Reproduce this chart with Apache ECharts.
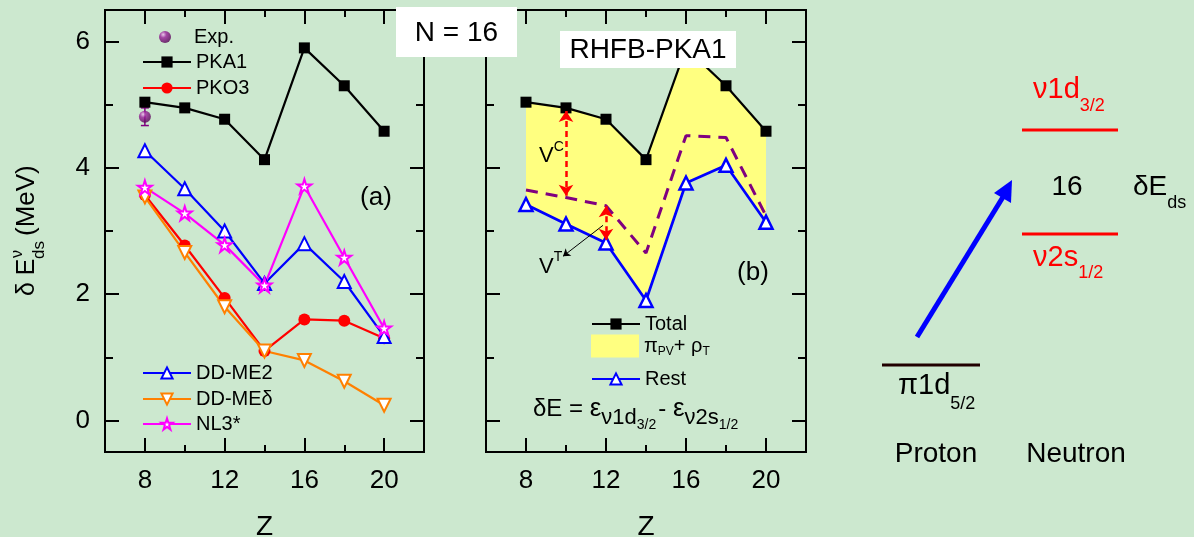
<!DOCTYPE html>
<html><head><meta charset="utf-8">
<script src="https://cdn.jsdelivr.net/npm/echarts@6/dist/echarts.min.js"></script>
<style>html,body{margin:0;padding:0;background:#cce8cf}#c{width:1194px;height:537px}</style>
</head><body><div id="c"></div>
<script>
// ---------------- data ----------------
const Z = [8, 10, 12, 14, 16, 18, 20];
const expPoint = [8, 4.81];
const expError = [4.67, 4.95];
const pka1  = [5.04, 4.95, 4.77, 4.13, 5.90, 5.30, 4.58];
const pko3  = [3.57, 2.77, 1.94, 1.10, 1.60, 1.58, 1.30];
const ddme2 = [4.27, 3.67, 3.00, 2.17, 2.80, 2.20, 1.33];
const ddmed = [3.54, 2.66, 1.80, 1.10, 0.95, 0.62, 0.24];
const nl3s  = [3.69, 3.28, 2.78, 2.14, 3.71, 2.58, 1.46];
const totalB = [5.04, 4.95, 4.77, 4.13, 5.90, 5.30, 4.58];
const restB  = [3.42, 3.11, 2.81, 1.90, 3.76, 4.04, 3.14];
const dashB  = [3.65, 3.53, 3.40, 2.65, 4.51, 4.48, 3.24];
const xTickLabels = [8, 12, 16, 20];
const xMinorTicks = [10, 14, 18];
const yTickLabels = [0, 2, 4, 6];
const yMinorTicks = [1, 3, 5];
const vcArrow = [[10, 4.90], [10, 3.56]];
const vtArrow = [[12, 3.39], [12, 2.86]];
const vtPointer = [[11.85, 3.09], [9.85, 2.60]];

// ---------------- helpers ----------------
const FF = '"Liberation Sans", Arial, sans-serif';
const ctx = document.createElement('canvas').getContext('2d');
function tw(t, s) { ctx.font = s + 'px "Liberation Sans"'; return ctx.measureText(t).width; }
function txt(x, y, t, s, color, align) {
  return { type: 'text', x: x, y: y, z: 101,
    style: { text: t, fill: color || '#000', fontSize: s, fontFamily: FF,
      textAlign: align || 'left', textVerticalAlign: 'middle', align: align || 'left', verticalAlign: 'middle' } };
}
// pieces: [text, size, dy, dxBefore]
function seq(x0, y0, pieces, color) {
  let x = x0; const out = [];
  pieces.forEach(p => {
    const t = p[0], s = p[1], dy = p[2] || 0, dx = p[3] || 0;
    x += dx;
    out.push(txt(x, y0 + dy, t, s, color));
    x += tw(t, s);
  });
  return out;
}

function makeAxes(gi, withLabels) {
  const common = { type: 'value', gridIndex: gi, splitLine: { show: false },
    axisLine: { show: true, onZero: false, lineStyle: { color: '#000', width: 2 } } };
  const xs = [], ys = [];
  [['bottom', true], ['bottom', false], ['top', true], ['top', false]].forEach(([pos, major], k) => {
    xs.push(Object.assign({}, common, {
      position: pos, min: 6, max: 22, interval: 2,
      axisTick: { show: true, inside: true, length: major ? 14 : 7, lineStyle: { color: '#000', width: 2 },
        customValues: major ? xTickLabels : xMinorTicks },
      axisLabel: (k === 0) ? { show: true, customValues: xTickLabels, margin: 16, fontSize: 26, color: '#000', fontFamily: FF } : { show: false },
      name: k === 0 ? 'Z' : '', nameLocation: 'middle', nameGap: 61,
      nameTextStyle: { fontSize: 28, color: '#000', fontFamily: FF }
    }));
  });
  [['left', true], ['left', false], ['right', true], ['right', false]].forEach(([pos, major], k) => {
    ys.push(Object.assign({}, common, {
      position: pos, min: -0.5, max: 6.5, interval: 0.5,
      axisTick: { show: true, inside: true, length: major ? 14 : 8, lineStyle: { color: '#000', width: 2 },
        customValues: major ? yTickLabels : yMinorTicks },
      axisLabel: (k === 0 && withLabels) ? { show: true, customValues: yTickLabels, margin: 15, fontSize: 26, color: '#000', fontFamily: FF } : { show: false }
    }));
  });
  return { xs, ys };
}
const a0 = makeAxes(0, true), a1 = makeAxes(1, false);

const pairs = a => Z.map((z, i) => [z, a[i]]);
const starPath = 'path://M50,2 L61,36 L97,36 L68,57 L79,92 L50,70 L21,92 L32,57 L3,36 L39,36 Z';
const ballColor = { type: 'radial', x: 0.35, y: 0.3, r: 0.75,
  colorStops: [{ offset: 0, color: '#f0c0f0' }, { offset: 0.35, color: '#9a209a' }, { offset: 1, color: '#500050' }] };

function lineSeries(name, data, color, symbol, size, opt) {
  return Object.assign({
    type: 'line', name: name, data: pairs(data), xAxisIndex: 0, yAxisIndex: 0,
    symbol: symbol, symbolSize: size, showAllSymbol: true,
    lineStyle: { color: color, width: 2.2 },
    itemStyle: { color: color, borderColor: color, borderWidth: 0 }
  }, opt || {});
}
const hollow = c => ({ color: '#fff', borderColor: c, borderWidth: 2 });

const series = [
  { type: 'custom', xAxisIndex: 0, yAxisIndex: 0, data: [[expPoint[0], expPoint[1], expError[0], expError[1]]],
    renderItem: (p, api) => {
      const lo = api.coord([api.value(0), api.value(2)]), hi = api.coord([api.value(0), api.value(3)]);
      const st = { stroke: '#800080', lineWidth: 1.5 };
      return { type: 'group', children: [
        { type: 'line', shape: { x1: lo[0], y1: lo[1], x2: hi[0], y2: hi[1] }, style: st },
        { type: 'line', shape: { x1: lo[0] - 4, y1: lo[1], x2: lo[0] + 4, y2: lo[1] }, style: st },
        { type: 'line', shape: { x1: hi[0] - 4, y1: hi[1], x2: hi[0] + 4, y2: hi[1] }, style: st }] };
    } },
  { type: 'scatter', name: 'Exp.', data: [expPoint], xAxisIndex: 0, yAxisIndex: 0, symbolSize: 12, itemStyle: { color: ballColor } },
  lineSeries('PKA1', pka1, '#000', 'rect', 11),
  lineSeries('PKO3', pko3, '#ff0000', 'circle', 12),
  lineSeries('DD-ME2', ddme2, '#0000ff', 'triangle', 13, { itemStyle: hollow('#0000ff') }),
  lineSeries('DD-MEδ', ddmed, '#ff8000', 'triangle', 13, { symbolRotate: 180, itemStyle: hollow('#ff8000') }),
  lineSeries('NL3*', nl3s, '#ff00ff', starPath, 14, { itemStyle: hollow('#ff00ff') }),
  // panel (b)
  { type: 'custom', name: 'PVT', xAxisIndex: 4, yAxisIndex: 4, data: [[Z[0], totalB[0]]],
    itemStyle: { color: '#ffff80' },
    renderItem: (p, api) => {
      const up = Z.map((z, i) => api.coord([z, totalB[i]]));
      const dn = Z.map((z, i) => api.coord([z, restB[i]])).reverse();
      return { type: 'polygon', shape: { points: up.concat(dn) }, style: { fill: '#ffff80' } };
    } },
  lineSeries('Rest', restB, '#0000ff', 'triangle', 13, { xAxisIndex: 4, yAxisIndex: 4, lineStyle: { color: '#0000ff', width: 2.7 }, itemStyle: { color: '#fff', borderColor: '#0000ff', borderWidth: 2.5 } }),
  lineSeries('Total', totalB, '#000', 'rect', 11, { xAxisIndex: 4, yAxisIndex: 4 }),
  { type: 'line', name: 'dash', data: pairs(dashB), xAxisIndex: 4, yAxisIndex: 4, symbol: 'none',
    lineStyle: { color: '#800080', width: 3, type: [12, 8] },
    markLine: { silent: true, animation: false, label: { show: false }, symbol: ['arrow', 'arrow'], symbolSize: 11,
      data: [
        [{ coord: vcArrow[0], lineStyle: { color: '#ff0000', width: 2.5, type: [6, 4] }, itemStyle: { color: '#ff0000' } }, { coord: vcArrow[1] }],
        [{ coord: vtArrow[0], lineStyle: { color: '#ff0000', width: 2.5, type: [6, 4] }, itemStyle: { color: '#ff0000' } }, { coord: vtArrow[1] }],
        [{ coord: vtPointer[0], symbol: 'none', lineStyle: { color: '#000', width: 1, type: 'solid' }, itemStyle: { color: '#000' } }, { coord: vtPointer[1], symbol: 'arrow', symbolSize: 7 }]
      ] } }
];

function lg(name, left, cy, h, extra) {
  return Object.assign({ data: [name], left: left, top: cy - h / 2, itemWidth: 48, itemHeight: h, padding: 0,
    selectedMode: false, orient: 'horizontal',
    textStyle: { fontSize: 20, fontFamily: FF, color: '#000', lineHeight: h } }, extra || {});
}
const legends = [
  lg('Exp.', 159, 33, 12),
  lg('PKA1', 142, 59, 14),
  lg('PKO3', 142, 85, 14),
  lg('DD-ME2', 142, 370, 14),
  lg('DD-MEδ', 142, 396, 14),
  lg('NL3*', 142, 421, 14),
  lg('Total', 591, 321, 14),
  lg({ name: 'PVT', icon: 'rect' }, 591, 346, 23, {
    formatter: () => '{m|π}{s|PV}{m|+ ρ}{s|T}',
    textStyle: { fontSize: 20, fontFamily: FF, color: '#000', lineHeight: 23,
      rich: { m: { fontSize: 20, fontFamily: FF, lineHeight: 23 }, s: { fontSize: 12, fontFamily: FF, lineHeight: 8, verticalAlign: 'bottom' } } } }),
  lg('Rest', 591, 376, 14)
];

// ---------------- annotations / schematic ----------------
const g = [];
g.push({ type: 'rect', z: 100, shape: { x: 396, y: 7, width: 121, height: 50 }, style: { fill: '#fff' } });
g.push(txt(456.5, 33, 'N = 16', 28, '#000', 'center'));
g.push({ type: 'rect', z: 100, shape: { x: 560, y: 31, width: 176, height: 37 }, style: { fill: '#fff' } });
g.push(txt(648, 50, 'RHFB-PKA1', 28, '#000', 'center'));
g.push(txt(376, 198, '(a)', 26, '#000', 'center'));
g.push(txt(753, 273, '(b)', 26, '#000', 'center'));
g.push(...seq(539, 156, [['V', 22], ['C', 14, -9]]));
g.push(...seq(539, 267, [['V', 22], ['T', 14, -10]]));
g.push(...seq(533, 409, [['δE = ', 24], ['ε', 26], ['ν1d', 22, 9], ['3/2', 14, 16], ['- ', 24, 0, 2], ['ε', 26], ['ν2s', 22, 9], ['1/2', 14, 16]]));
// y axis label (rotated)
g.push({ type: 'group', x: 27, y: 296, rotation: Math.PI / 2, z: 101,
  children: [txt(0, 0, 'δ E', 25), txt(37, 12, 'ds', 17), txt(38, -9, 'ν', 16), txt(60, 0, '(MeV)', 26)] });
// schematic
g.push({ type: 'line', z: 100, shape: { x1: 882, y1: 365, x2: 980, y2: 365 }, style: { stroke: '#200000', lineWidth: 3 } });
g.push({ type: 'line', z: 100, shape: { x1: 1022, y1: 130, x2: 1118, y2: 130 }, style: { stroke: '#ff0000', lineWidth: 3 } });
g.push({ type: 'line', z: 100, shape: { x1: 1022, y1: 234, x2: 1118, y2: 234 }, style: { stroke: '#ff0000', lineWidth: 3 } });
g.push({ type: 'line', z: 100, shape: { x1: 917, y1: 337, x2: 1003, y2: 197 }, style: { stroke: '#0000ff', lineWidth: 5 } });
g.push({ type: 'polygon', z: 100, shape: { points: [[1012, 180], [1011, 203], [994, 193]] }, style: { fill: '#0000ff' } });
g.push(...seq(1033, 90, [['ν1d', 29], ['3/2', 18, 16]], '#ff0000'));
g.push(...seq(1033, 258, [['ν2s', 29], ['1/2', 18, 15]], '#ff0000'));
g.push(...seq(898, 386, [['π1d', 29], ['5/2', 18, 18]], '#000'));
g.push(txt(1067, 187, '16', 28, '#000', 'center'));
g.push(...seq(1133, 187, [['δE', 28], ['ds', 18, 16]], '#000'));
g.push(txt(936, 454, 'Proton', 28, '#000', 'center'));
g.push(txt(1076, 454, 'Neutron', 28, '#000', 'center'));

const option = {
  backgroundColor: '#cce8cf',
  animation: false,
  grid: [
    { left: 105, top: 10, width: 319, height: 442, outerBoundsMode: 'none', containLabel: false },
    { left: 486, top: 10, width: 320, height: 442, outerBoundsMode: 'none', containLabel: false }
  ],
  xAxis: a0.xs.concat(a1.xs),
  yAxis: a0.ys.concat(a1.ys),
  legend: legends,
  series: series,
  graphic: { elements: g }
};
const chart = echarts.init(document.getElementById('c'), null, { renderer: 'canvas' });
chart.setOption(option);
</script></body></html>
